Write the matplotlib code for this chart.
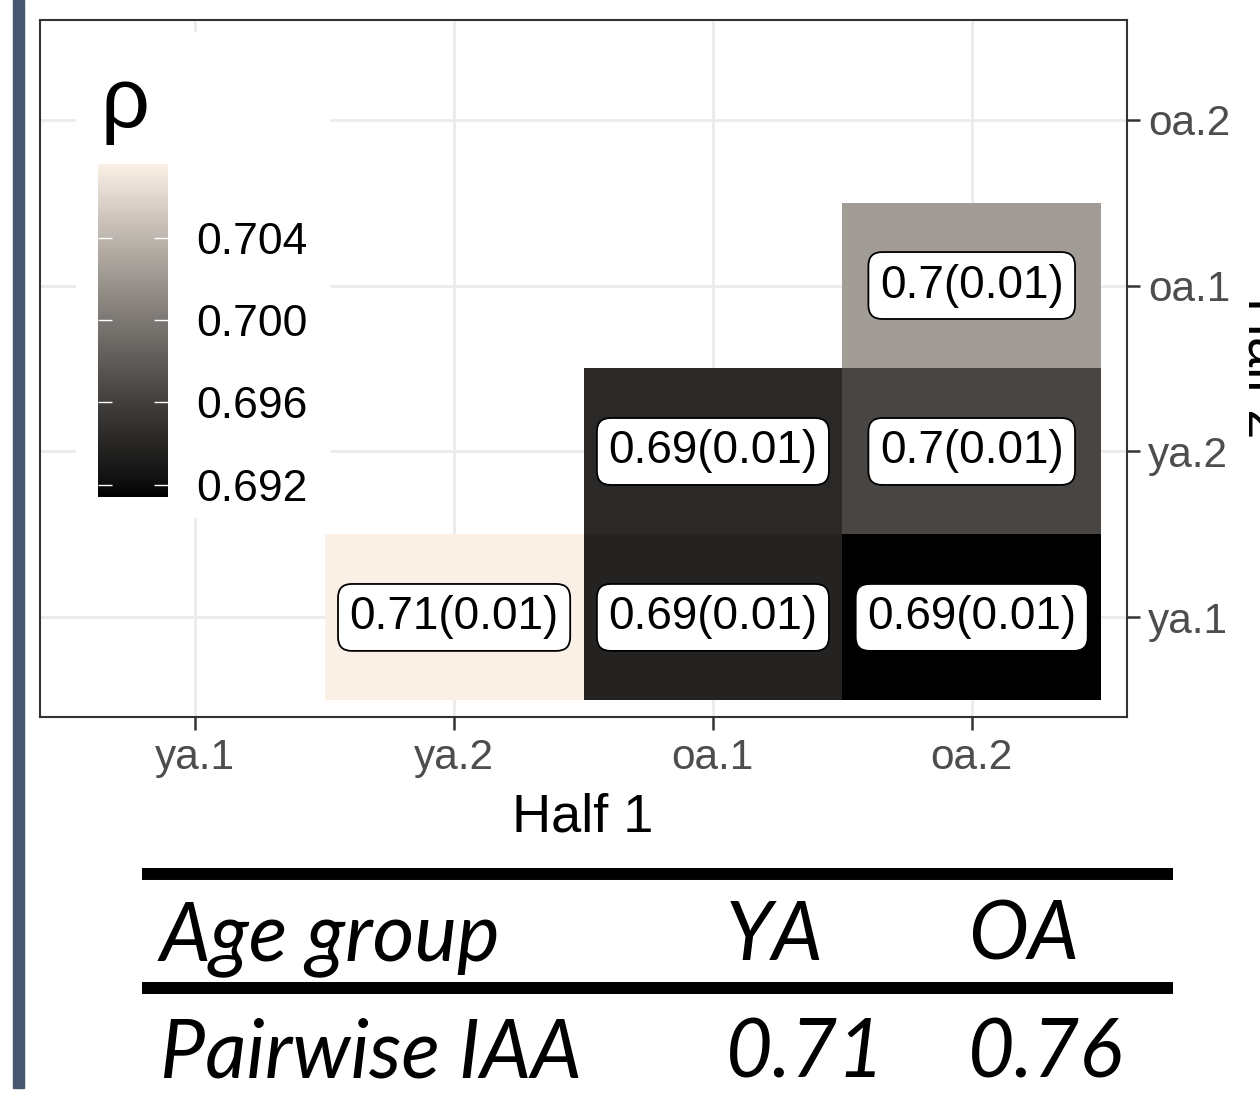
import numpy as np
import matplotlib
matplotlib.use('Agg')
import matplotlib.pyplot as plt
from matplotlib.colors import ListedColormap, Normalize
from matplotlib.patches import Rectangle
from matplotlib.lines import Line2D

# data
groups = ['ya.1', 'ya.2', 'oa.1', 'oa.2']
half1 = ['ya.2', 'oa.1', 'oa.2', 'oa.1', 'oa.2', 'oa.2']
half2 = ['ya.1', 'ya.1', 'ya.1', 'ya.2', 'ya.2', 'oa.1']
rho = [0.7076, 0.6938, 0.6914, 0.6942, 0.6964, 0.7024]
cell_labels = ['0.71(0.01)', '0.69(0.01)', '0.69(0.01)',
               '0.69(0.01)', '0.7(0.01)', '0.7(0.01)']
cbar_ticks = [0.692, 0.696, 0.700, 0.704]

table_header = ['Age group', 'YA', 'OA']
table_row = ['Pairwise IAA', '0.71', '0.76']

W, H = 1260, 1103


def fx(px):
    return px / W


def fy(py):
    return 1 - py / H


# gradient black -> linen, interpolated in CIELAB like ggplot
def srgb_to_lab(rgb):
    c = np.asarray(rgb, float)
    lin = np.where(c <= 0.04045, c / 12.92, ((c + 0.055) / 1.055) ** 2.4)
    M = np.array([[0.4124, 0.3576, 0.1805],
                  [0.2126, 0.7152, 0.0722],
                  [0.0193, 0.1192, 0.9505]])
    xyz = M @ lin / np.array([0.95047, 1.0, 1.08883])
    f = np.where(xyz > (6 / 29) ** 3, np.cbrt(xyz), xyz / (3 * (6 / 29) ** 2) + 4 / 29)
    return np.array([116 * f[1] - 16, 500 * (f[0] - f[1]), 200 * (f[1] - f[2])])


def lab_to_srgb(lab):
    L, a, b = lab
    fy_ = (L + 16) / 116
    f = np.array([fy_ + a / 500, fy_, fy_ - b / 200])
    xyz = np.where(f > 6 / 29, f ** 3, 3 * (6 / 29) ** 2 * (f - 4 / 29))
    xyz = xyz * np.array([0.95047, 1.0, 1.08883])
    Minv = np.array([[3.2406, -1.5372, -0.4986],
                     [-0.9689, 1.8758, 0.0415],
                     [0.0557, -0.2040, 1.0570]])
    lin = np.clip(Minv @ xyz, 0, 1)
    c = np.where(lin <= 0.0031308, 12.92 * lin, 1.055 * lin ** (1 / 2.4) - 0.055)
    return np.clip(c, 0, 1)


lo = srgb_to_lab([0, 0, 0])
hi = srgb_to_lab([250 / 255, 240 / 255, 230 / 255])
cmap = ListedColormap([lab_to_srgb(lo + t * (hi - lo)) for t in np.linspace(0, 1, 256)])
norm = Normalize(vmin=min(rho), vmax=max(rho))

plt.rcParams['font.family'] = ['Liberation Sans', 'DejaVu Sans']

fig = plt.figure(figsize=(W / 100, H / 100), dpi=100)

# slide accent bar at the left
fig.patches.append(Rectangle((fx(13), fy(1088)), fx(11), 1 - fy(1088),
                             transform=fig.transFigure, color='#46566f'))

ax = fig.add_axes([fx(40), fy(717), fx(1127 - 40), (717 - 20) / H])
ax.set_xlim(0.4, 4.6)
ax.set_ylim(0.4, 4.6)
ax.set_axisbelow(True)
ax.grid(color='#ebebeb', lw=2.0)

grid = np.full((4, 4), np.nan)
for h1, h2, v in zip(half1, half2, rho):
    grid[groups.index(h2), groups.index(h1)] = v
edges = np.arange(0.5, 5.0, 1.0)
ax.pcolormesh(edges, edges, np.ma.masked_invalid(grid), cmap=cmap, norm=norm,
              zorder=2, antialiased=False)

for h1, h2, lab in zip(half1, half2, cell_labels):
    ax.text(groups.index(h1) + 1, groups.index(h2) + 1, lab, fontsize=33,
            ha='center', va='center', zorder=3,
            bbox=dict(boxstyle='round,pad=0.25,rounding_size=0.3',
                      fc='white', ec='black', lw=1.3))

ax.set_xticks(range(1, 5))
ax.set_xticklabels(groups)
ax.set_yticks(range(1, 5))
ax.set_yticklabels(groups)
ax.yaxis.tick_right()
ax.tick_params(axis='both', labelsize=30.5, labelcolor='#4d4d4d', color='#333333',
               length=9, width=1.8)
ax.tick_params(axis='x', pad=6)
ax.tick_params(axis='y', pad=6)
for s in ax.spines.values():
    s.set_color('#333333')
    s.set_linewidth(1.5)

# white legend background inside the panel
ax.add_patch(Rectangle((fx(76), fy(518)), fx(330 - 76), (518 - 32) / H,
                       transform=fig.transFigure, fc='white', ec='none', zorder=1))

cax = fig.add_axes([fx(98), fy(497), fx(70), (497 - 164) / H])
sm = matplotlib.cm.ScalarMappable(norm=norm, cmap=cmap)
cb = fig.colorbar(sm, cax=cax, ticks=cbar_ticks)
cb.outline.set_visible(False)
cb.ax.set_yticklabels(['%.3f' % t for t in cbar_ticks])
cax.tick_params(direction='in', left=True, right=True, length=10, width=1,
                color='white', labelsize=32, labelcolor='black', pad=20)

fig.text(fx(100), fy(127), '\u03c1', fontsize=62, ha='left', va='baseline')

fig.text(fx(583), fy(832), 'Half 1', fontsize=39, ha='center', va='baseline')
fig.text(fx(1238), fy(368), 'Half 2', fontsize=39, rotation=270,
         ha='left', va='center')

# summary table under the chart
for py in [874, 988]:
    fig.lines.append(Line2D([fx(142), fx(1173)], [fy(py), fy(py)],
                            transform=fig.transFigure, color='black', lw=8.6,
                            solid_capstyle='butt'))

tfont = dict(family='Lato', style='italic', fontsize=58, va='baseline', ha='left')
col_x = [160, 726, 968]
for x, s in zip(col_x, table_header):
    fig.text(fx(x), fy(960), s, **tfont)
for x, s in zip(col_x, table_row):
    fig.text(fx(x), fy(1078), s, **tfont)

fig.savefig('out.png', dpi=100)
